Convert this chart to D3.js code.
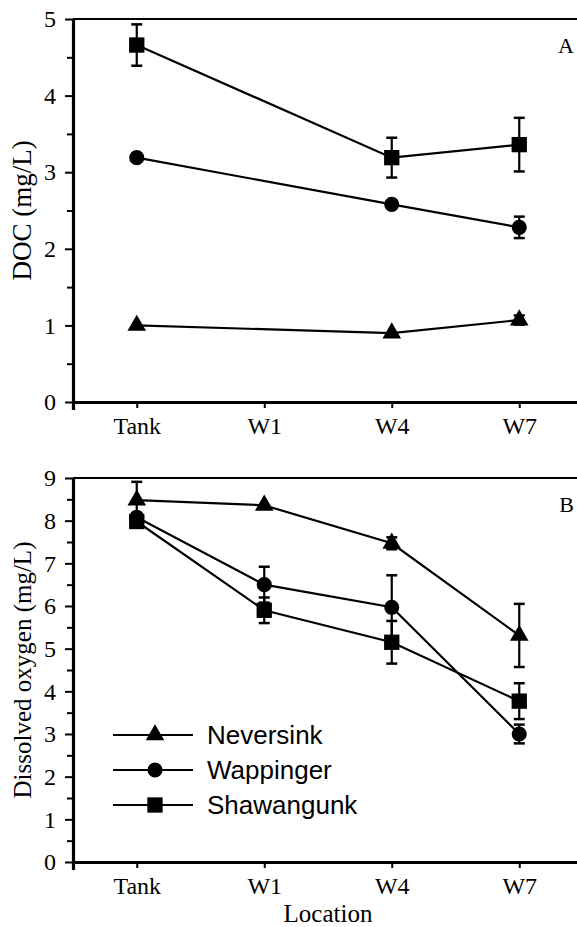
<!DOCTYPE html>
<html><head><meta charset="utf-8">
<script src="https://cdn.jsdelivr.net/npm/d3@7/dist/d3.min.js"></script>
<style>body{margin:0;background:#fff}svg{display:block}</style>
</head><body>
<script>
const locations = ["Tank", "W1", "W4", "W7"];
const seriesNames = ["Neversink", "Wappinger", "Shawangunk"];
const seriesSymbols = ["triangle", "circle", "square"];

// Panel A: DOC (mg/L); null = not sampled
const docNeversink = [1.0, null, 0.9, 1.07];
const docNeversinkErr = [0, null, 0, 0.06];
const docWappinger = [3.19, null, 2.58, 2.28];
const docWappingerErr = [0, null, 0, 0.14];
const docShawangunk = [4.66, null, 3.19, 3.36];
const docShawangunkErr = [0.27, null, 0.26, 0.35];

// Panel B: Dissolved oxygen (mg/L)
const doNeversink = [8.48, 8.36, 7.47, 5.31];
const doNeversinkErr = [0.43, 0, 0.14, 0.74];
const doWappinger = [8.08, 6.5, 5.97, 3.0];
const doWappingerErr = [0.1, 0.42, 0.75, 0.22];
const doShawangunk = [7.98, 5.9, 5.15, 3.77];
const doShawangunkErr = [0.1, 0.3, 0.5, 0.42];

const docTicks = [0, 1, 2, 3, 4, 5];
const doTicks = [0, 1, 2, 3, 4, 5, 6, 7, 8, 9];

const W = 577, H = 927;
const svg = d3.select("body").append("svg").attr("width", W).attr("height", H);
const serif = "'Liberation Serif','Times New Roman',serif";
const sans = "'Liberation Sans',Arial,Helvetica,sans-serif";

const x = d3.scalePoint().domain(locations).range([73, 583]).padding(0.5);

function symbolPath(kind) {
  const t = kind === "triangle" ? d3.symbolTriangle : kind === "circle" ? d3.symbolCircle : d3.symbolSquare;
  const s = kind === "triangle" ? 150 : kind === "circle" ? 180 : 235;
  return d3.symbol().type(t).size(s)();
}

function panel(cfg) {
  const y = d3.scaleLinear().domain(cfg.domain).range(cfg.range);
  const g = svg.append("g");
  // top frame line
  g.append("line").attr("x1", 73).attr("x2", 583).attr("y1", y(cfg.domain[1])).attr("y2", y(cfg.domain[1]))
    .attr("stroke", "#000").attr("stroke-width", 2);
  // minor ticks
  const minor = d3.range(cfg.domain[0] + 0.5, cfg.domain[1], 1);
  g.append("g").attr("transform", "translate(73,0)")
    .call(d3.axisLeft(y).tickValues(minor).tickSize(6).tickFormat(""))
    .call(a => a.select(".domain").remove())
    .call(a => a.selectAll("line").attr("stroke-width", 2));
  // major y axis
  const ya = g.append("g").attr("transform", "translate(73,0)")
    .call(d3.axisLeft(y).tickValues(cfg.ticks).tickSize(8).tickSizeOuter(0).tickPadding(9).tickFormat(d3.format("d")));
  ya.select(".domain").attr("stroke-width", 3.2);
  ya.selectAll(".tick line").attr("stroke-width", 2);
  ya.selectAll("text").attr("font-family", serif).attr("font-size", 24).attr("fill", "#000");
  // x axis
  const xa = g.append("g").attr("transform", `translate(0,${cfg.range[0]})`)
    .call(d3.axisBottom(x).tickSize(6).tickSizeOuter(8).tickPadding(9));
  xa.select(".domain").attr("stroke-width", 3.2);
  xa.selectAll(".tick line").attr("stroke-width", 2);
  xa.selectAll("text").attr("font-family", serif).attr("font-size", 24).attr("fill", "#000");
  // y title
  g.append("text").attr("transform", `translate(${cfg.titleX},${(cfg.range[0] + cfg.range[1]) / 2}) rotate(-90)`)
    .attr("text-anchor", "middle").attr("font-family", serif).attr("font-size", cfg.titleSize).text(cfg.title);
  // panel letter
  g.append("text").attr("x", 574).attr("y", y(cfg.domain[1]) + 34).attr("text-anchor", "end")
    .attr("font-family", serif).attr("font-size", 22).text(cfg.letter);

  cfg.series.forEach((s, si) => {
    const pts = locations.map((loc, i) => ({ loc, v: s.values[i], e: s.err[i] })).filter(p => p.v != null);
    const line = d3.line().x(p => x(p.loc)).y(p => y(p.v));
    g.append("path").attr("d", line(pts)).attr("fill", "none").attr("stroke", "#000").attr("stroke-width", 2.2);
    pts.filter(p => p.e > 0).forEach(p => {
      const cx = x(p.loc);
      g.append("line").attr("x1", cx).attr("x2", cx).attr("y1", y(p.v - p.e)).attr("y2", y(p.v + p.e))
        .attr("stroke", "#000").attr("stroke-width", 2.2);
      [p.v - p.e, p.v + p.e].forEach(v => g.append("line").attr("x1", cx - 5.5).attr("x2", cx + 5.5)
        .attr("y1", y(v)).attr("y2", y(v)).attr("stroke", "#000").attr("stroke-width", 2.5));
    });
    g.selectAll(null).data(pts).join("path")
      .attr("d", symbolPath(seriesSymbols[si]))
      .attr("transform", p => `translate(${x(p.loc)},${y(p.v)})`).attr("fill", "#000");
  });
}

panel({
  domain: [0, 5], range: [402, 19], ticks: docTicks, title: "DOC (mg/L)", titleX: 31, titleSize: 27, letter: "A",
  series: [
    { values: docNeversink, err: docNeversinkErr },
    { values: docWappinger, err: docWappingerErr },
    { values: docShawangunk, err: docShawangunkErr }
  ]
});
panel({
  domain: [0, 9], range: [862, 478], ticks: doTicks, title: "Dissolved oxygen (mg/L)", titleX: 31, titleSize: 25, letter: "B",
  series: [
    { values: doNeversink, err: doNeversinkErr },
    { values: doWappinger, err: doWappingerErr },
    { values: doShawangunk, err: doShawangunkErr }
  ]
});

svg.append("text").attr("x", 328).attr("y", 922).attr("text-anchor", "middle")
  .attr("font-family", serif).attr("font-size", 25).text("Location");

// legend
const legendY = d3.scalePoint().domain(seriesNames).range([735, 805]);
const lg = svg.append("g");
seriesNames.forEach((n, i) => {
  const yy = legendY(n);
  lg.append("line").attr("x1", 113).attr("x2", 193).attr("y1", yy).attr("y2", yy).attr("stroke", "#000").attr("stroke-width", 2.2);
  lg.append("path").attr("d", symbolPath(seriesSymbols[i])).attr("transform", `translate(155,${yy})`).attr("fill", "#000");
  lg.append("text").attr("x", 207).attr("y", yy + 9).attr("font-family", sans).attr("font-size", 26).text(n);
});
</script>
</body></html>
